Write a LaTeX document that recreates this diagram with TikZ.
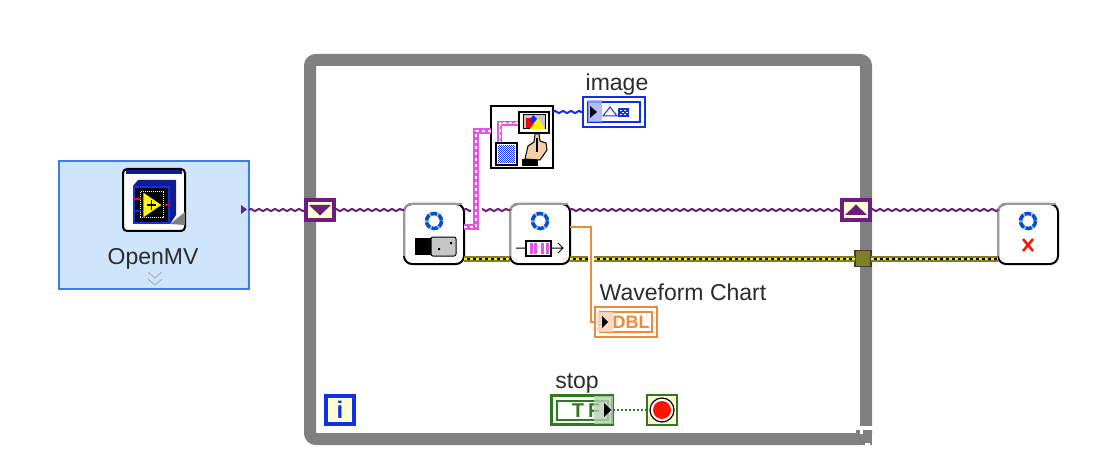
\documentclass[tikz,border=0pt]{standalone}
\usepackage{fontspec}
\setmainfont{Liberation Sans}
\usetikzlibrary{decorations.pathmorphing}
\definecolor{loopgray}{HTML}{808080}
\definecolor{cream}{HTML}{FFFCD4}
\definecolor{panelfill}{HTML}{CFE5FC}
\definecolor{panelline}{HTML}{3B7BF2}
\definecolor{classwire}{HTML}{6B1E7B}
\definecolor{pinkwire}{HTML}{E653E6}
\definecolor{imgblue}{HTML}{1030E8}
\definecolor{dblorange}{HTML}{EE8A3C}
\definecolor{boolgreen}{HTML}{2E7A1E}
\definecolor{oliveline}{HTML}{7F7F2B}
\definecolor{navyicon}{HTML}{101C90}
\definecolor{skin}{HTML}{F6CFA4}
\definecolor{labeltext}{HTML}{2B2B2B}
\tikzset{
  lbl/.style={text=labeltext,inner sep=0pt,font=\fontsize{23}{25}\selectfont},
  subvi/.style={draw=black,fill=white,line width=2pt,rounded corners=8pt,inner sep=0pt,outer sep=0pt,minimum width=60pt,minimum height=60pt},
  shiftreg/.style={draw=classwire,fill=cream,line width=4pt,inner sep=0pt,outer sep=0pt,minimum width=28pt,minimum height=20pt},
  termbox/.style={line width=2pt,fill=white,inner sep=0pt,outer sep=0pt,minimum width=62pt,minimum height=30pt},
  termin/.style={line width=2pt,fill=white,inner sep=0pt,minimum width=52pt,minimum height=20pt},
  wavy/.style={line width=2pt,decorate,decoration={zigzag,segment length=8pt,amplitude=1.1pt}},
  classw/.style={wavy,draw=classwire},
  errorw/.style={draw=oliveline,line width=6pt,postaction={draw=black,line width=2pt},postaction={draw=yellow!90!white,line width=2pt,dash pattern=on 3pt off 3pt}},
  imagew/.style={draw=pinkwire,line width=6.5pt,line join=miter,postaction={draw=white,line width=2pt,dash pattern=on 3pt off 3pt}},
}
\begin{document}
\begin{tikzpicture}[x=1pt,y=-1pt]
  \useasboundingbox (0,0) rectangle (1096,476);

  % while loop
  \node[draw=loopgray,line width=12pt,rounded corners=6pt,inner sep=0pt,outer sep=0pt,minimum width=556pt,minimum height=379pt] (whileloop) at (588,249.5) {};
  \fill[loopgray] (850,433) rectangle (872,445);
  \fill[loopgray] (856,430) rectangle (860,433);
  \fill[white] (860,426) rectangle (873,430);
  \fill[white] (860,430) rectangle (863,434);
  \fill[white] (865,443) rectangle (870,445);

  % library panel
  \node[draw=panelline,fill=panelfill,line width=2pt,inner sep=0pt,outer sep=0pt,minimum width=190pt,minimum height=128pt] (openmv) at (154,225) {};
  \node[lbl] (openmvtxt) at (153,259) {OpenMV};
  \draw[gray!70,line width=.8pt] (148,272) -- (155,278) -- (162,272) (148,279) -- (155,285) -- (162,279);
  \fill[classwire] (241,205) -- (247,209.5) -- (241,214) -- cycle;
  \node[draw=black,fill=white,line width=2pt,rounded corners=4pt,inner sep=0pt,minimum width=62pt,minimum height=62pt] (openmvicon) at (154,200) {};
  \fill[navyicon] (126,170) rectangle (182,174);
  \fill[loopgray] (170,224) -- (185,212) -- (185,225) -- cycle;
  \fill[navyicon] (133,186) -- (138,180) -- (176,180) -- (176,215) -- (170,224) -- cycle;
  \draw[imgblue,fill=black,line width=2pt] (134,187) rectangle (169,223);
  \draw[white,line width=1pt,dash pattern=on 1pt off 1pt] (140,192) rectangle (163,218);
  \fill[yellow!90!white,draw=black,line width=.5pt] (143,192) -- (162,205) -- (143,218) -- cycle;
  \draw[black,line width=1.5pt] (147,205) -- (156,205) (151.5,200) -- (151.5,210);
  \draw[red,line width=1.5pt] (134,199) -- (141,199) (165,205) -- (169,205);
  \draw[imgblue,line width=1.5pt] (134,211) -- (141,211);

  % shift register and tunnel
  \node[shiftreg] (regleft) at (320,210) {};
  \node[shiftreg] (regright) at (856,210) {};
  \fill[classwire] (309,205) -- (331,205) -- (320,215.5) -- cycle;
  \fill[classwire] (845,215) -- (867,215) -- (856,204.5) -- cycle;
  \node[draw=black!70!olive,fill=oliveline,line width=1.5pt,inner sep=0pt,outer sep=0pt,minimum width=16pt,minimum height=16pt] (tunnel) at (863,258.5) {};

  % subvis
  \node[subvi] (camvi) at (434,234) {};
  \node[subvi] (chartvi) at (540,234) {};
  \node[subvi] (closevi) at (1028,234) {};
  \foreach \vi in {camvi,chartvi,closevi} {
    \draw[loopgray!80!white,line width=2pt,rounded corners=8pt] ([yshift=8pt]\vi.south west) -- (\vi.north west) -- ([xshift=-2pt]\vi.north east);
    \draw[blue!35!white,line width=3.5pt] ([yshift=-17pt]\vi.north) circle (7.5);
    \draw[blue!60!cyan!80!black,line width=3.5pt,dash pattern=on 6pt off 2pt] ([yshift=-17pt]\vi.north) circle (7.5);
  }

  % wires
  \draw[classw] (openmv.east |- regleft.west) -- (regleft.west);
  \draw[classw] (regleft.east) -- (camvi.west |- regleft.east);
  \draw[classw] (camvi.east |- regleft.east) -- (chartvi.west |- regleft.east);
  \draw[classw] (chartvi.east |- regleft.east) -- (regright.west);
  \draw[classw] (regright.east) -- (closevi.west |- regright.east);

  \draw[errorw] (camvi.east |- tunnel.west) -- (chartvi.west |- tunnel.west);
  \draw[errorw] (chartvi.east |- tunnel.west) -- (tunnel.west);
  \draw[errorw] (tunnel.east) -- (closevi.west |- tunnel.east);

  % image block
  \node[draw=black,fill=white,line width=2pt,inner sep=0pt,outer sep=0pt,minimum width=62pt,minimum height=62pt] (imgvi) at (522,137.5) {};
  \draw[white,line width=11pt] (476,218) -- (476,200);
  \draw[imagew] (camvi.east |- 0,227) -- (476,227) -- (476,131) -- (imgvi.west |- 0,131);
  \draw[imagew,line width=5pt,postaction={draw=white,line width=1.5pt}] (518,123.5) -- (499.5,123.5) -- (499.5,142);
  \draw[black,fill=white,line width=2pt] (496,143) rectangle (517,165);
  \fill[imgblue] (498,145) rectangle (515,163);
  \foreach \x in {0,2,...,16} \foreach \y in {0,2,...,16} {
    \fill[white] (498+\x,145+\y) rectangle ++(1,1);
    \fill[white] (499+\x,146+\y) rectangle ++(1,1);
  }
  \draw[black,fill=white,line width=2pt] (519,112) rectangle (549,133);
  \draw[black,fill=gray!45,line width=1pt] (523,115) rectangle (545,129);
  \fill[red] (526,118) rectangle (533,128);
  \fill[yellow] (530,129) -- (538,118) -- (545,129) -- cycle;
  \fill[imgblue] (533,115) -- (537,119) -- (533,124) -- (530,120) -- cycle;
  \fill[black] (522,159) rectangle (538,166);
  \draw[black,fill=skin,line width=1pt] (525,159) -- (528,146) -- (534,142) -- (535,134) -- (539,134) -- (540,141) -- (546,143) -- (547,150) -- (540,160) -- cycle;
  \draw[black,line width=1.5pt] (537,138) -- (537,152);

  % indicators
  \node[draw=imgblue,termbox] (imageind) at (614,112) {};
  \node[draw=imgblue,termin] (imageinner) at (614,112) {};
  \fill[imgblue!40,opacity=.8] (588,100) rectangle (602,122);
  \fill[black] (590,106) -- (597,112) -- (590,118) -- cycle;
  \draw[imgblue,line width=1pt] (603,116) -- (610,107) -- (617,116) -- cycle;
  \fill[imgblue] (618,108) rectangle (629,117);
  \foreach \x/\y in {620/110,624/110,622/112,626/112,620/114,624/114} \fill[white] (\x,\y) rectangle ++(1.5,1.5);
  \node[lbl] (imagetxt) at (617,85) {image};
  \draw[wavy,draw=imgblue] (imgvi.east |- imageind.west) -- (imageind.west);

  \node[draw=dblorange,termbox] (chartind) at (626,322) {};
  \node[draw=dblorange,termin] (chartinner) at (626,322) {};
  \fill[dblorange!35,opacity=.9] (597,312) rectangle (613,332);
  \fill[black] (602,316) -- (608,322) -- (602,328) -- cycle;
  \node[text=dblorange,inner sep=0pt,font=\bfseries\fontsize{18}{18}\selectfont] (dbltxt) at (631,322) {DBL};
  \node[lbl] (charttxt) at (683,292) {Waveform Chart};
  \draw[white,line width=6pt] (591,254) -- (591,264);
  \draw[draw=dblorange,line width=1.5pt] ([yshift=-23pt]chartvi.north east) -| (591,322) -- (chartind.west);

  \node[draw=boolgreen,fill=white,line width=3pt,inner sep=0pt,outer sep=0pt,minimum width=61pt,minimum height=29pt] (stopctl) at (582,410) {};
  \node[draw=boolgreen,line width=2pt,inner sep=0pt,minimum width=51pt,minimum height=19pt] (stopinner) at (582,410) {};
  \node[text=boolgreen,inner sep=0pt,font=\bfseries\fontsize{20}{20}\selectfont] (tftxt) at (586,410.5) {T\kern4pt F};
  \fill[boolgreen!35,opacity=.8] (594,396) rectangle (613,424);
  \fill[black] (604,403) -- (611,410) -- (604,417) -- cycle;
  \node[lbl] (stoptxt) at (577,383) {stop};
  \node[draw=boolgreen,fill=cream,line width=2pt,inner sep=0pt,outer sep=0pt,minimum width=30pt,minimum height=30pt] (stopterm) at (662,410) {};
  \draw[black,fill=white,line width=1.2pt] (662,410) circle (12);
  \fill[red!85!orange] (662,410) circle (9);
  \draw[boolgreen,line width=1.5pt,dash pattern=on 2pt off 2pt] (stopctl.east) -- (stopterm.west);

  \node[draw=imgblue,fill=cream,line width=4pt,inner sep=0pt,outer sep=0pt,minimum width=28pt,minimum height=28pt,text=imgblue,font=\bfseries\fontsize{24}{24}\selectfont] (iterm) at (340,410) {i};

  % subvi glyphs
  \fill[black] (415,238) rectangle (431,255);
  \draw[black,fill=gray!45,line width=1pt,rounded corners=2pt] (431,237) rectangle (456,256);
  \fill[black] (438,248) rectangle (440,250) (450,242) rectangle (452,244);
  \draw[black,line width=1pt] (516,248) -- (526,248) (552,248) -- (563,248) (558,243) -- (563,248) -- (558,253);
  \draw[black,fill=white,line width=1.5pt] (526,241) rectangle (551,256);
  \foreach \x in {530,534,541,546} \fill[pinkwire] (\x,243) rectangle ++(2.5,11);
  \draw[red!85!orange,line width=2.5pt] (1023,239) -- (1033,251) (1033,239) -- (1023,251);
\end{tikzpicture}
\end{document}
